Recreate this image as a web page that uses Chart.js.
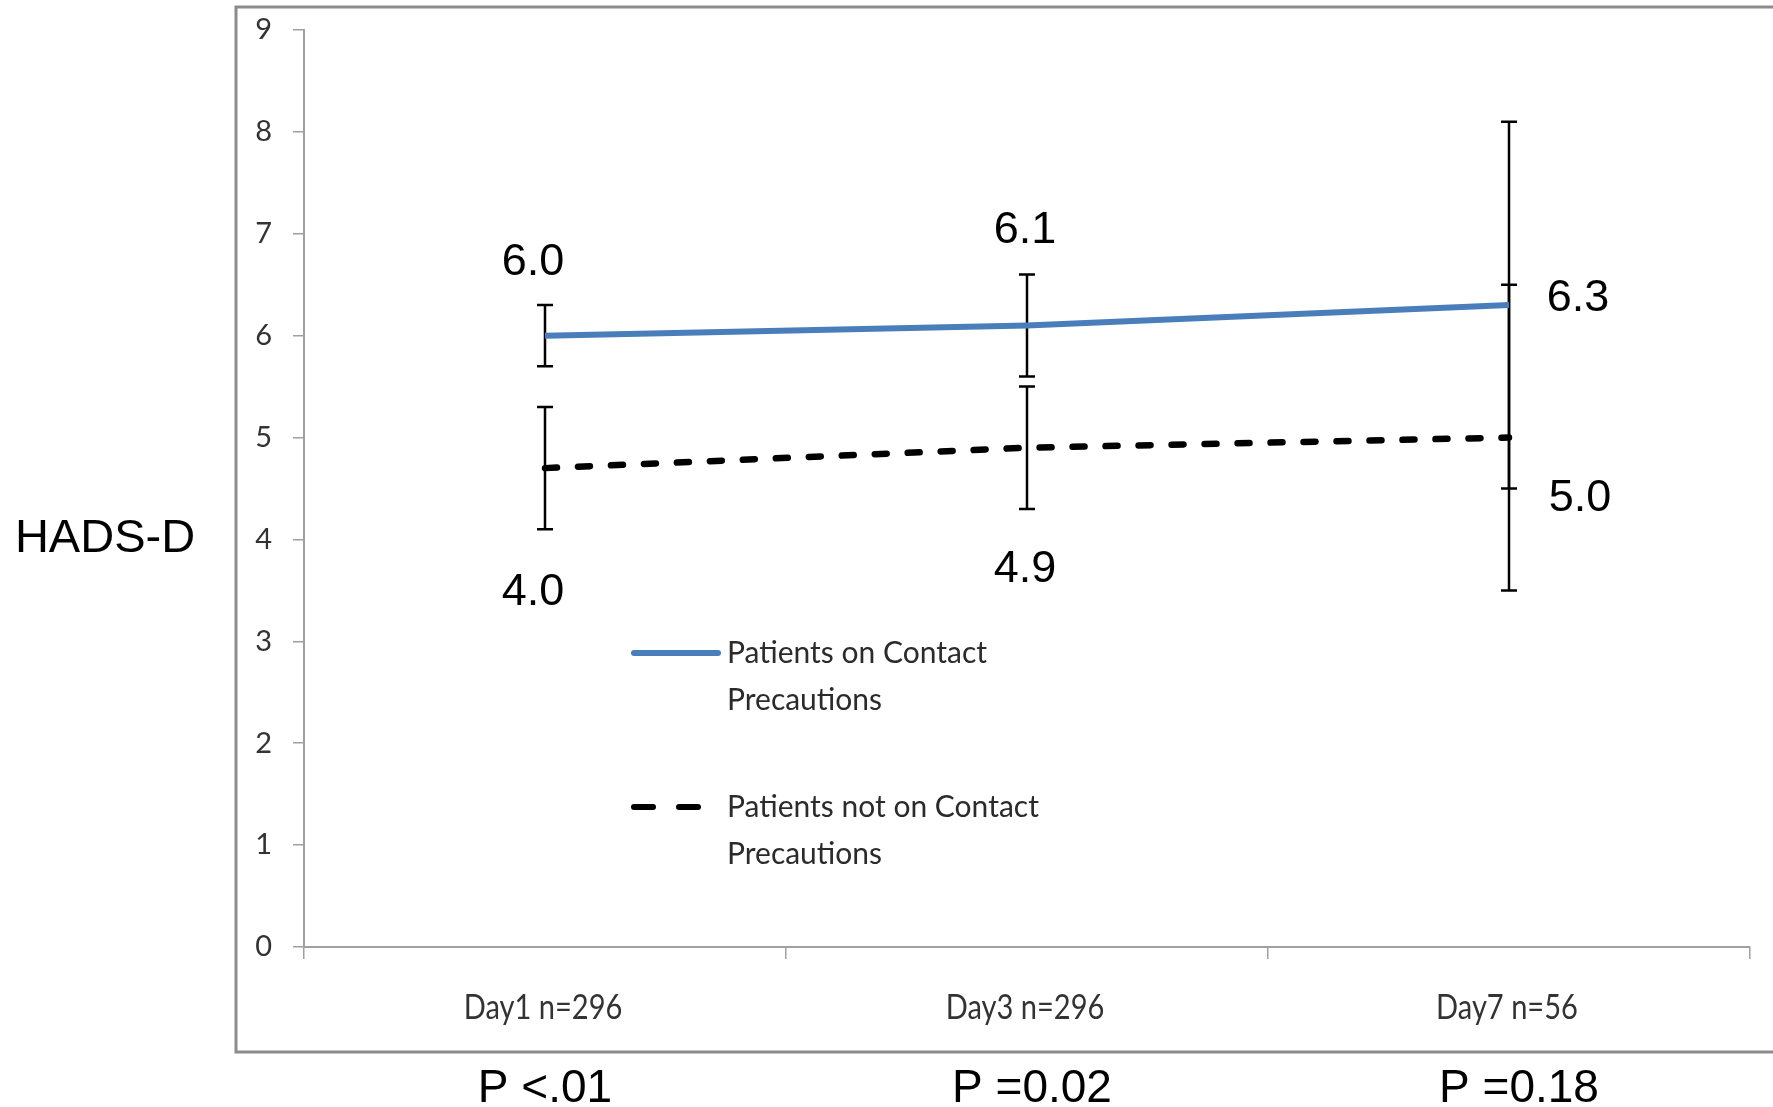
<!DOCTYPE html>
<html>
<head>
<meta charset="utf-8">
<script src="https://cdn.jsdelivr.net/npm/chart.js@4.4.0/dist/chart.umd.min.js"></script>
<style>
html,body{margin:0;padding:0;background:#fff;}
#wrap{width:1773px;height:1107px;position:relative;}
</style>
</head>
<body>
<div id="wrap"><canvas id="hads"></canvas></div>
<script>
// values
const days = ["Day1 n=296", "Day3 n=296", "Day7 n=56"];
const pValues = ["P <.01", "P =0.02", "P =0.18"];
const yTicks = [0, 1, 2, 3, 4, 5, 6, 7, 8, 9];

const contactMean = [6.0, 6.1, 6.3];
const contactErr = [0.3, 0.5, 1.8];
const contactText = ["6.0", "6.1", "6.3"];

const noContactMean = [4.7, 4.9, 5.0];
const noContactErr = [0.6, 0.6, 1.5];
const noContactText = ["4.0", "4.9", "5.0"];

const blue = "#4a7ebb";
const ctx = document.getElementById("hads").getContext("2d");

// label offsets from the point (px)
const contactOff = [[-12, -73], [-2, -95], [69, -7]];
const noContactOff = [[-12, 124], [-2, 122], [71, 61]];

const extras = {
  id: "extras",
  beforeDraw(chart) {
    const c = chart.ctx;
    c.save();
    c.strokeStyle = "#8c8c8c";
    c.lineWidth = 3;
    c.strokeRect(236, 7, 1700, 1045);
    c.restore();
  },
  beforeDatasetsDraw(chart) {
    const c = chart.ctx, x = chart.scales.x, y = chart.scales.y;
    c.save();
    c.strokeStyle = "#000";
    c.lineWidth = 2.5;
    [[contactMean, contactErr], [noContactMean, noContactErr]].forEach(([m, e]) => {
      m.forEach((v, i) => {
        const px = x.getPixelForValue(i);
        const top = y.getPixelForValue(v + e[i]);
        const bot = y.getPixelForValue(v - e[i]);
        c.beginPath();
        c.moveTo(px, top); c.lineTo(px, bot);
        c.moveTo(px - 8, top); c.lineTo(px + 8, top);
        c.moveTo(px - 8, bot); c.lineTo(px + 8, bot);
        c.stroke();
      });
    });
    c.restore();
  },
  afterDraw(chart) {
    const c = chart.ctx, x = chart.scales.x, y = chart.scales.y;
    const area = chart.chartArea;
    c.save();
    c.fillStyle = "#000";
    c.textAlign = "center";
    c.textBaseline = "middle";
    c.font = "45px 'Liberation Sans', Arial, sans-serif";
    contactMean.forEach((v, i) => {
      c.fillText(contactText[i], x.getPixelForValue(i) + contactOff[i][0], y.getPixelForValue(v) + contactOff[i][1]);
    });
    noContactMean.forEach((v, i) => {
      c.fillText(noContactText[i], x.getPixelForValue(i) + noContactOff[i][0], y.getPixelForValue(v) + noContactOff[i][1]);
    });

    // category labels, squeezed like the original narrow font
    c.fillStyle = "#333";
    c.font = "35px Lato, 'Liberation Sans', sans-serif";
    days.forEach((t, i) => {
      c.save();
      c.translate(x.getPixelForValue(i) - 2, area.bottom + 61);
      c.scale(0.83, 1);
      c.fillText(t, 0, 0);
      c.restore();
    });

    // p values under the frame
    c.fillStyle = "#000";
    c.font = "46px 'Liberation Sans', Arial, sans-serif";
    pValues.forEach((t, i) => {
      c.fillText(t, x.getPixelForValue(i) + i * 5, area.bottom + 142);
    });

    // y axis title
    c.font = "47px 'Liberation Sans', Arial, sans-serif";
    c.fillText("HADS-D", 105, 539);

    // legend
    const ds = chart.data.datasets;
    c.font = "30px Lato, 'Liberation Sans', sans-serif";
    c.fillStyle = "#2b2b2b";
    c.textAlign = "left";
    const rows = [653, 807];
    ds.forEach((d, k) => {
      const ly = rows[k];
      c.save();
      c.strokeStyle = d.borderColor;
      c.lineWidth = 6;
      c.lineCap = "round";
      c.setLineDash(k === 0 ? [] : [19, 26]);
      c.beginPath();
      c.moveTo(634, ly); c.lineTo(718, ly);
      c.stroke();
      c.restore();
      const words = d.label.split(" ");
      c.fillText(words.slice(0, -1).join(" "), 727, ly);
      c.fillText(words[words.length - 1], 727, ly + 47);
    });
    c.restore();
  }
};

new Chart(ctx, {
  type: "line",
  data: {
    labels: days,
    datasets: [
      {
        label: "Patients on Contact Precautions",
        data: contactMean,
        borderColor: blue,
        backgroundColor: blue,
        borderWidth: 6,
        pointRadius: 0,
        tension: 0,
      },
      {
        label: "Patients not on Contact Precautions",
        data: noContactMean,
        borderColor: "#000",
        backgroundColor: "#000",
        borderWidth: 6.5,
        borderDash: [12, 21],
        borderCapStyle: "round",
        pointRadius: 0,
        tension: 0,
      },
    ],
  },
  options: {
    responsive: true,
    maintainAspectRatio: false,
    animation: false,
    layout: { padding: { top: 30, right: 23, left: 0, bottom: 0 } },
    plugins: { legend: { display: false }, tooltip: { enabled: false } },
    scales: {
      x: {
        offset: true,
        grid: { offset: true, drawOnChartArea: false, drawTicks: true, tickLength: 12, color: "#a0a0a0", lineWidth: 1.5 },
        border: { color: "#a0a0a0", width: 2 },
        ticks: { display: false },
        afterFit(s) { s.height = 160; },
      },
      y: {
        min: 0,
        max: 9,
        afterBuildTicks(s) { s.ticks = yTicks.map(v => ({ value: v })); },
        grid: { drawOnChartArea: false, drawTicks: true, tickLength: 11, color: "#a0a0a0", lineWidth: 1.5 },
        border: { color: "#a0a0a0", width: 2 },
        ticks: {
          color: "#333",
          padding: 21,
          font: { family: "Lato, 'Liberation Sans', sans-serif", size: 29 },
        },
        afterFit(s) {
          s.width = 304;
          s.paddingTop = 0;
          s.paddingBottom = 0;
        },
      },
    },
  },
  plugins: [extras],
});
</script>
</body>
</html>
